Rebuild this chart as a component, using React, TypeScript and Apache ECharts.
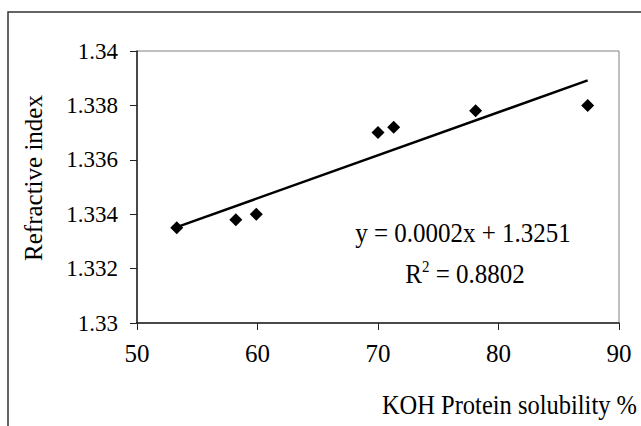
import React, { useEffect, useRef } from "react";
import * as echarts from "echarts";

const solubility = [53.3, 58.2, 59.9, 70.0, 71.3, 78.1, 87.4];
const refractive = [1.3335, 1.3338, 1.334, 1.337, 1.3372, 1.3378, 1.338];
const equationText = "y = 0.0002x + 1.3251";
const r2Value = "0.8802";
const xTitle = "KOH Protein solubility %";
const yTitle = "Refractive index";

function regression(xs: number[], ys: number[]) {
  const n = xs.length;
  const mx = xs.reduce((a, b) => a + b, 0) / n;
  const my = ys.reduce((a, b) => a + b, 0) / n;
  let sxy = 0, sxx = 0;
  for (let i = 0; i < n; i++) {
    sxy += (xs[i] - mx) * (ys[i] - my);
    sxx += (xs[i] - mx) ** 2;
  }
  const slope = sxy / sxx;
  return { slope, intercept: my - slope * mx };
}

export default function App() {
  const ref = useRef<HTMLDivElement>(null);
  useEffect(() => {
    document.body.style.margin = "0";
    const chart = echarts.init(ref.current!, null, { renderer: "svg" });
    const { slope, intercept } = regression(solubility, refractive);
    const xMin = Math.min(...solubility);
    const xMax = Math.max(...solubility);
    const trend = [
      [xMin, slope * xMin + intercept],
      [xMax, slope * xMax + intercept],
    ];
    const font = "'Liberation Serif', 'Times New Roman', serif";
    chart.setOption({
      animation: false,
      backgroundColor: "#fff",
      textStyle: { fontFamily: font },
      grid: {
        left: 137,
        right: 22,
        top: 51,
        bottom: 103,
        show: true,
        borderColor: "#808080",
        borderWidth: 1,
      },
      xAxis: {
        type: "value",
        min: 50,
        max: 90,
        interval: 10,
        axisLine: { show: true, lineStyle: { color: "#222", width: 1.5 } },
        axisTick: { show: true, length: 7, lineStyle: { color: "#222" } },
        splitLine: { show: false },
        axisLabel: { color: "#000", fontSize: 25, fontFamily: font, margin: 18 },
      },
      yAxis: {
        type: "value",
        min: 1.33,
        max: 1.34,
        interval: 0.002,
        axisLine: { show: true, lineStyle: { color: "#222", width: 1.5 } },
        axisTick: { show: true, length: 7, lineStyle: { color: "#222" } },
        splitLine: { show: false },
        axisLabel: {
          color: "#000",
          fontSize: 23,
          fontFamily: font,
          margin: 19,
          formatter: (v: number) => String(parseFloat(v.toFixed(4))),
        },
      },
      series: [
        {
          type: "line",
          data: trend,
          symbol: "none",
          lineStyle: { color: "#000", width: 2.5 },
          z: 2,
        },
        {
          type: "scatter",
          data: solubility.map((x, i) => [x, refractive[i]]),
          symbol: "diamond",
          symbolSize: 13,
          itemStyle: { color: "#000", opacity: 1 },
          z: 3,
        },
      ],
      graphic: [
        {
          type: "rect",
          shape: { x: 8, y: 12, width: 900, height: 700 },
          style: { fill: "none", stroke: "#333", lineWidth: 1.5 },
          silent: true,
        },
        {
          type: "text",
          x: 637,
          y: 404,
          scaleY: 1.15,
          style: {
            text: xTitle,
            fontSize: 24.5,
            fontFamily: font,
            fill: "#000",
            align: "right",
            verticalAlign: "middle",
          },
        },
        {
          type: "text",
          x: 33,
          y: 178,
          rotation: Math.PI / 2,
          style: {
            text: yTitle,
            fontSize: 25,
            fontFamily: font,
            fill: "#000",
            align: "center",
            verticalAlign: "middle",
          },
        },
        {
          type: "text",
          x: 463,
          y: 233,
          scaleY: 1.1,
          style: {
            text: equationText,
            fontSize: 25,
            fontFamily: font,
            fill: "#000",
            align: "center",
            verticalAlign: "middle",
          },
        },
        {
          type: "text",
          x: 465,
          y: 273,
          scaleY: 1.1,
          style: {
            text: "{n|R}{s|2}{n| = " + r2Value + "}",
            align: "center",
            verticalAlign: "middle",
            rich: {
              n: { fontSize: 25, fontFamily: font, fill: "#000", verticalAlign: "bottom" },
              s: { fontSize: 15, fontFamily: font, fill: "#000", verticalAlign: "top", padding: [0, 0, 12, 0] },
            },
          },
        },
      ],
    });
    return () => chart.dispose();
  }, []);
  return (
    <div
      ref={ref}
      style={{ position: "fixed", left: 0, top: 0, width: 641, height: 426 }}
    />
  );
}
